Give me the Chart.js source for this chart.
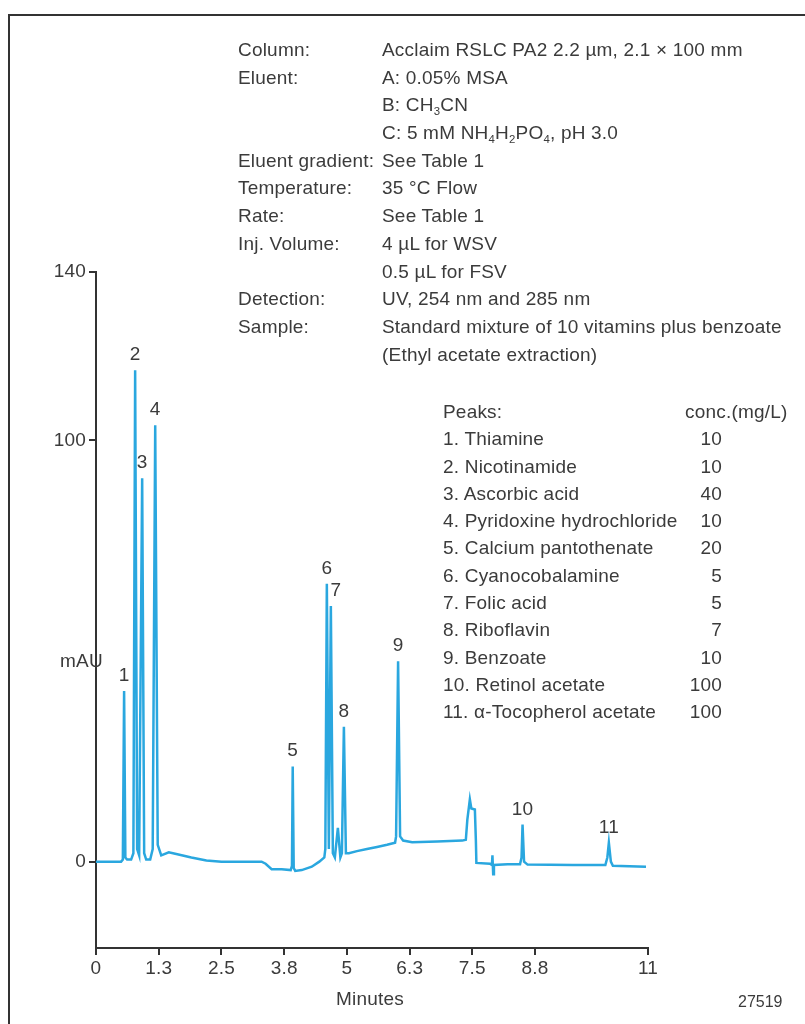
<!DOCTYPE html>
<html>
<head>
<meta charset="utf-8">
<script src="https://cdn.jsdelivr.net/npm/chart.js@4.4.0/dist/chart.umd.min.js"></script>
<style>
  body { margin: 0; background: #fff; }
  #wrap { position: relative; width: 805px; height: 1024px; overflow: hidden;
          font-family: "Liberation Sans", Arial, sans-serif;
          font-size: 19px; letter-spacing: 0.2px; color: #3b3b3b; }
  #frame { position: absolute; left: 8px; top: 14px; width: 820px; height: 1030px;
           border-left: 2px solid #333; border-top: 2px solid #333; }
  #myChart { position: absolute; left: 0; top: 0; }
  .txt { position: absolute; white-space: nowrap; }
  #cond { left: 238px; top: 36px; line-height: 27.7px; }
  #cond .row { position: relative; height: 27.7px; }
  #cond .v { position: absolute; left: 144px; }
  sub { font-size: 0.6em; vertical-align: -0.35em; line-height: 0; }
  #peaks { left: 443px; top: 398px; width: 279px; line-height: 27.3px; }
  #peaks .row { position: relative; height: 27.3px; }
  #peaks .c { position: absolute; right: 0; }
  #peaks .h { position: absolute; left: 242px; }
</style>
</head>
<body>
<div id="wrap">
  <div id="frame"></div>
  <canvas id="myChart" width="805" height="1024"></canvas>
  <div id="cond" class="txt"></div>
  <div id="peaks" class="txt"></div>
  <div class="txt" style="left:60px; top:650px;">mAU</div>
  <div class="txt" style="left:336px; top:988px;">Minutes</div>
  <div class="txt" style="left:738px; top:993px; font-size:16px; letter-spacing:0;">27519</div>
</div>

<script>
// chromatogram trace (minutes, mAU)
var times = [0, 0.50, 0.535, 0.56, 0.585, 0.62, 0.70, 0.745, 0.78, 0.82, 0.86, 0.92, 0.96, 1.0,
  1.08, 1.13, 1.18, 1.23, 1.30, 1.45, 1.6, 1.9, 2.2, 2.5, 3.3, 3.38, 3.5, 3.7, 3.88, 3.905, 3.92,
  3.94, 3.97, 4.1, 4.3, 4.45, 4.55, 4.57, 4.60, 4.64, 4.68, 4.72, 4.76, 4.82, 4.87, 4.90, 4.94,
  4.98, 5.04, 5.2, 5.4, 5.6, 5.8, 5.96, 5.98, 6.02, 6.06, 6.12, 6.3, 6.8, 7.3, 7.37, 7.40, 7.45,
  7.48, 7.55, 7.57, 7.58, 7.85, 7.89, 7.90, 7.915, 7.93, 8.2, 8.45, 8.48, 8.50, 8.53, 8.6, 9.5,
  10.15, 10.19, 10.22, 10.26, 10.3, 10.96];
var mau = [0, 0, 0.5, 40.5, 1, 0.5, 0.5, 2, 116.7, 3, 1.5, 91, 2, 0.5,
  0.5, 3, 103.6, 4, 1.5, 2.2, 1.8, 1, 0.3, 0, 0, -0.5, -1.8, -1.8, -2, -1, 22.6,
  -1.5, -2.2, -2, -1.2, 0, 1, 3, 66, 3, 60.7, 2, 1, 8, 1, 2, 32,
  2, 2, 2.5, 3, 3.5, 4, 4.5, 6, 47.6, 6, 5, 4.6, 4.8, 5, 5.2, 10, 14.8,
  12.6, 12.4, 5, -0.3, -0.5, -0.8, 1.5, -3, -0.8, -0.6, -0.6, 1, 8.8, 0, -0.7, -0.8,
  -0.8, 1, 4.5, 0, -1, -1.2];

// peak numbers and apex positions
var peakNumbers = ['1', '2', '3', '4', '5', '6', '7', '8', '9', '10', '11'];
var peakTimes = [0.56, 0.78, 0.92, 1.18, 3.92, 4.60, 4.68, 4.94, 6.02, 8.50, 10.22];
var peakTops = [40.5, 116.7, 91, 103.6, 22.6, 66, 60.7, 32, 47.6, 8.8, 4.5];

// axes
var xTickValues = [0, 1.25, 2.5, 3.75, 5, 6.25, 7.5, 8.75, 11];
var xTickLabels = ['0', '1.3', '2.5', '3.8', '5', '6.3', '7.5', '8.8', '11'];
var yTickValues = [0, 100, 140];

// conditions and peak table
var condLabels = ['Column:', 'Eluent:', '', '', 'Eluent gradient:', 'Temperature:', 'Rate:',
  'Inj. Volume:', '', 'Detection:', 'Sample:', ''];
var condValues = ['Acclaim RSLC PA2 2.2 µm, 2.1 × 100 mm', 'A: 0.05% MSA', 'B: CH<sub>3</sub>CN',
  'C: 5 mM NH<sub>4</sub>H<sub>2</sub>PO<sub>4</sub>, pH 3.0', 'See Table 1', '35 °C Flow',
  'See Table 1', '4 µL for WSV', '0.5 µL for FSV', 'UV, 254 nm and 285 nm',
  'Standard mixture of 10 vitamins plus benzoate', '(Ethyl acetate extraction)'];
var peakNames = ['Thiamine', 'Nicotinamide', 'Ascorbic acid', 'Pyridoxine hydrochloride',
  'Calcium pantothenate', 'Cyanocobalamine', 'Folic acid', 'Riboflavin', 'Benzoate',
  'Retinol acetate', 'α-Tocopherol acetate'];
var peakConc = ['10', '10', '40', '10', '20', '5', '5', '7', '10', '100', '100'];

var lineColor = '#2aa7df';
var inkColor = '#3b3b3b';
var fontFamily = '"Liberation Sans", Arial, sans-serif';

// text blocks
var cond = document.getElementById('cond');
condLabels.forEach(function (lab, i) {
    cond.innerHTML += '<div class="row"><span>' + lab + '</span><span class="v">' + condValues[i] + '</span></div>';
});
var peaks = document.getElementById('peaks');
peaks.innerHTML = '<div class="row"><span>Peaks:</span><span class="h">conc.(mg/L)</span></div>';
peakNames.forEach(function (name, i) {
    peaks.innerHTML += '<div class="row"><span>' + (i + 1) + '. ' + name + '</span><span class="c">' + peakConc[i] + '</span></div>';
});

var peakLabels = {
    id: 'peakLabels',
    afterDatasetsDraw: function (chart) {
        var ctx = chart.ctx, x = chart.scales.x, y = chart.scales.y;
        ctx.save();
        ctx.font = '19px ' + fontFamily;
        ctx.fillStyle = inkColor;
        ctx.textAlign = 'center';
        ctx.textBaseline = 'alphabetic';
        peakNumbers.forEach(function (n, i) {
            var shift = n === '7' ? 5 : 0;
            ctx.fillText(n, x.getPixelForValue(peakTimes[i]) + shift, y.getPixelForValue(peakTops[i]) - 10);
        });
        ctx.restore();
    }
};

var ctx = document.getElementById('myChart');
var myChart = new Chart(ctx, {
    type: 'line',
    data: {
        datasets: [{
            data: times.map(function (t, i) { return { x: t, y: mau[i] }; }),
            borderColor: lineColor,
            borderWidth: 2.5,
            pointRadius: 0,
            lineTension: 0,
            fill: false
        }]
    },
    options: {
        responsive: false,
        animation: false,
        layout: { padding: { top: 272, right: 157, bottom: 0, left: 0 } },
        plugins: { legend: { display: false }, tooltip: { enabled: false } },
        scales: {
            x: {
                type: 'linear',
                min: 0,
                max: 11,
                afterBuildTicks: function (scale) {
                    scale.ticks = xTickValues.map(function (v) { return { value: v }; });
                },
                afterFit: function (scale) { scale.height = 76; },
                ticks: {
                    autoSkip: false,
                    maxRotation: 0,
                    color: inkColor,
                    font: { family: fontFamily, size: 19 },
                    padding: 2,
                    callback: function (v, i) { return xTickLabels[i]; }
                },
                grid: { drawOnChartArea: false, tickLength: 7, color: '#333', lineWidth: 2 },
                border: { color: '#333', width: 2 }
            },
            y: {
                min: -20.5,
                max: 140,
                afterBuildTicks: function (scale) {
                    scale.ticks = yTickValues.map(function (v) { return { value: v }; });
                },
                afterFit: function (scale) { scale.width = 96; },
                ticks: {
                    color: inkColor,
                    font: { family: fontFamily, size: 19 },
                    padding: 3
                },
                grid: { drawOnChartArea: false, tickLength: 7, color: '#333', lineWidth: 2 },
                border: { color: '#333', width: 2 }
            }
        }
    },
    plugins: [peakLabels]
});
</script>
</body>
</html>
